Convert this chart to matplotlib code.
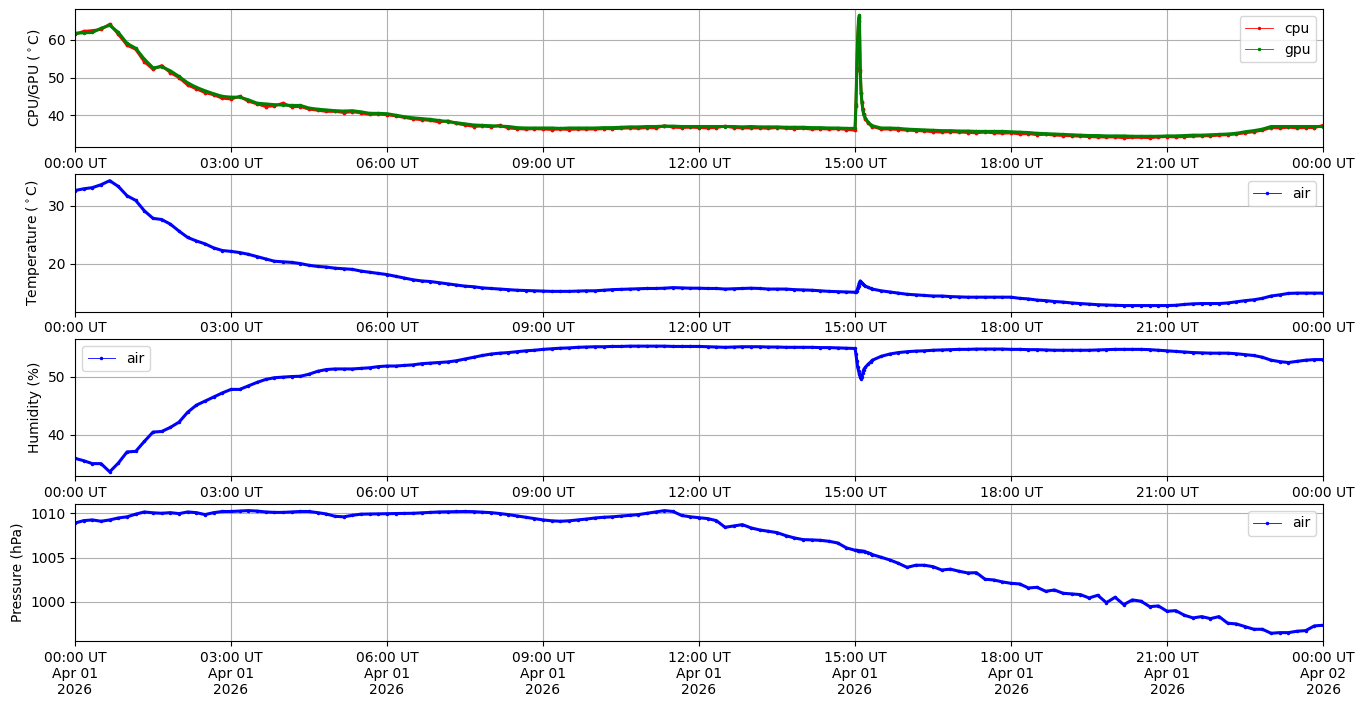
import datetime as dt
import matplotlib
matplotlib.use("Agg")
import matplotlib.pyplot as plt
import matplotlib.dates as mdates
from matplotlib.lines import Line2D

# sample times (minutes after 2026-04-01 00:00 UT)
minutes = (list(range(0, 900, 10))
           + [900, 901, 902, 903, 904, 905, 906, 907, 908, 909, 910, 912, 915, 918, 920, 930, 940, 950]
           + list(range(960, 1441, 10)))

gpu = [
    61.8, 61.9, 62.0, 63.1, 63.9, 62.0,
    59.1, 57.8, 54.9, 52.6, 52.9, 51.8,
    50.3, 48.6, 47.4, 46.5, 45.7, 45.0,
    44.8, 44.8, 44.1, 43.2, 43.0, 42.8,
    42.7, 42.6, 42.6, 41.9, 41.6, 41.4,
    41.2, 41.1, 41.2, 40.9, 40.5, 40.5,
    40.4, 40.0, 39.6, 39.3, 39.1, 38.9,
    38.6, 38.3, 38.0, 37.7, 37.4, 37.3,
    37.2, 37.1, 37.0, 36.7, 36.6, 36.6,
    36.6, 36.6, 36.5, 36.6, 36.6, 36.6,
    36.6, 36.7, 36.7, 36.8, 36.9, 36.9,
    37.0, 37.0, 37.1, 37.1, 37.0, 37.0,
    37.0, 37.0, 37.0, 37.0, 37.0, 36.9,
    37.0, 36.9, 36.9, 36.9, 36.8, 36.8,
    36.8, 36.7, 36.7, 36.6, 36.6, 36.5,
    36.5, 43.0, 52.5, 60.5, 65.5, 66.5, 51.5, 45.8, 43.2, 41.4, 40.1, 39.2, 38.2, 37.5, 37.2, 36.6, 36.6, 36.5,
    36.3, 36.2, 36.1, 36.0, 35.9, 35.9,
    35.8, 35.8, 35.7, 35.7, 35.7, 35.7,
    35.6, 35.5, 35.4, 35.2, 35.1, 35.0,
    34.9, 34.8, 34.7, 34.6, 34.6, 34.5,
    34.5, 34.5, 34.4, 34.4, 34.4, 34.4,
    34.5, 34.5, 34.6, 34.7, 34.7, 34.8,
    34.9, 35.0, 35.2, 35.6, 35.9, 36.3,
    37.0, 37.0, 37.0, 37.0, 37.0, 37.0,
    37.0,
]

cpu = [
    61.5, 62.3, 62.5, 62.8, 64.2, 61.5,
    58.6, 57.5, 54.2, 52.2, 53.2, 51.3,
    50.0, 48.0, 47.0, 46.0, 45.4, 44.5,
    44.3, 45.0, 43.7, 43.0, 42.3, 42.5,
    43.2, 42.2, 42.3, 41.6, 41.3, 41.0,
    41.0, 40.7, 40.9, 40.6, 40.2, 40.3,
    40.1, 39.8, 39.4, 39.0, 38.8, 38.6,
    38.2, 38.5, 37.8, 37.4, 37.0, 37.1,
    36.9, 37.3, 36.6, 36.4, 36.3, 36.4,
    36.3, 36.2, 36.3, 36.2, 36.3, 36.3,
    36.3, 36.4, 36.4, 36.5, 36.6, 36.5,
    36.7, 36.6, 37.2, 36.8, 36.7, 36.8,
    36.7, 36.6, 36.7, 37.1, 36.7, 36.6,
    36.6, 36.6, 36.5, 36.7, 36.5, 36.4,
    36.5, 36.3, 36.4, 36.3, 36.4, 36.2,
    36.0, 42.5, 52.0, 60.5, 65.0, 66.0, 52.0, 46.0, 43.5, 41.6, 40.3, 39.0, 38.0, 37.3, 37.0, 36.3, 36.3, 36.2,
    36.0, 35.9, 35.8, 35.6, 35.5, 35.6,
    35.5, 35.4, 35.3, 35.5, 35.3, 35.2,
    35.3, 35.0, 35.1, 34.8, 34.9, 34.7,
    34.6, 34.5, 34.4, 34.3, 34.2, 34.2,
    34.2, 34.0, 34.1, 34.1, 34.0, 34.2,
    34.3, 34.2, 34.3, 34.4, 34.5, 34.5,
    34.7, 34.8, 35.0, 35.3, 35.6, 36.0,
    36.7, 36.6, 36.8, 36.6, 36.7, 36.7,
    37.3,
]

air_temp = [
    32.6, 32.9, 33.1, 33.6, 34.3, 33.3,
    31.7, 30.9, 29.1, 27.8, 27.6, 26.8,
    25.6, 24.5, 23.9, 23.4, 22.7, 22.25,
    22.1, 21.9, 21.6, 21.2, 20.8, 20.4,
    20.3, 20.2, 20.0, 19.7, 19.5, 19.4,
    19.2, 19.1, 19.0, 18.7, 18.5, 18.3,
    18.1, 17.8, 17.5, 17.2, 17.0, 16.9,
    16.7, 16.5, 16.3, 16.1, 16.0, 15.8,
    15.7, 15.6, 15.5, 15.4, 15.35, 15.3,
    15.25, 15.2, 15.2, 15.2, 15.25, 15.3,
    15.3, 15.4, 15.5, 15.55, 15.6, 15.65,
    15.7, 15.7, 15.75, 15.85, 15.8, 15.75,
    15.75, 15.7, 15.7, 15.6, 15.65, 15.7,
    15.75, 15.7, 15.6, 15.6, 15.6, 15.5,
    15.45, 15.4, 15.3, 15.2, 15.15, 15.1,
    15.05, 15.1, 15.3, 15.7, 16.2, 16.7, 17.0, 16.8, 16.6, 16.4, 16.3, 16.1, 15.9, 15.7, 15.6, 15.3, 15.1, 14.9,
    14.7, 14.6, 14.5, 14.4, 14.4, 14.3,
    14.25, 14.2, 14.2, 14.2, 14.2, 14.2,
    14.2, 14.0, 13.9, 13.7, 13.6, 13.45,
    13.35, 13.2, 13.1, 13.0, 12.9, 12.85,
    12.8, 12.75, 12.75, 12.75, 12.75, 12.75,
    12.75, 12.8, 12.95, 13.05, 13.1, 13.1,
    13.1, 13.2, 13.4, 13.6, 13.75, 14.0,
    14.4, 14.6, 14.85, 14.9, 14.9, 14.9,
    14.9,
]

humidity = [
    36.0, 35.6, 35.1, 35.1, 33.7, 35.2,
    37.1, 37.2, 38.9, 40.5, 40.6, 41.3,
    42.2, 43.9, 45.1, 45.8, 46.5, 47.2,
    47.8, 47.8, 48.4, 49.0, 49.5, 49.8,
    49.9, 50.0, 50.05, 50.4, 50.9, 51.2,
    51.3, 51.3, 51.3, 51.4, 51.5, 51.7,
    51.8, 51.8, 51.9, 52.0, 52.2, 52.3,
    52.4, 52.5, 52.7, 53.0, 53.3, 53.6,
    53.85, 54.0, 54.1, 54.25, 54.4, 54.5,
    54.65, 54.75, 54.85, 54.9, 55.0, 55.05,
    55.1, 55.1, 55.15, 55.15, 55.2, 55.2,
    55.2, 55.2, 55.2, 55.15, 55.15, 55.15,
    55.15, 55.1, 55.05, 55.0, 55.05, 55.1,
    55.1, 55.1, 55.05, 55.05, 55.0, 55.0,
    55.0, 55.0, 54.95, 54.95, 54.9, 54.85,
    54.8, 53.85, 52.7, 51.6, 51.0, 50.4, 49.9, 49.6, 50.0, 50.6, 51.2, 51.6, 52.1, 52.5, 52.8, 53.45, 53.85, 54.1,
    54.25, 54.35, 54.4, 54.5, 54.55, 54.6,
    54.65, 54.65, 54.7, 54.7, 54.7, 54.7,
    54.65, 54.65, 54.6, 54.6, 54.55, 54.5,
    54.5, 54.5, 54.5, 54.5, 54.55, 54.6,
    54.65, 54.65, 54.65, 54.65, 54.6, 54.5,
    54.4, 54.3, 54.2, 54.1, 54.05, 54.0,
    54.0, 54.0, 53.9, 53.75, 53.6, 53.3,
    52.8, 52.55, 52.4, 52.6, 52.8, 52.9,
    52.9,
]

pressure = [
    1008.9, 1009.17, 1009.25, 1009.1, 1009.25, 1009.47,
    1009.6, 1009.9, 1010.15, 1010.05, 1010.0, 1010.07,
    1009.96, 1010.15, 1010.07, 1009.85, 1010.07, 1010.2,
    1010.2, 1010.25, 1010.3, 1010.25, 1010.15, 1010.1,
    1010.1, 1010.15, 1010.2, 1010.2, 1010.07, 1009.92,
    1009.66, 1009.6, 1009.77, 1009.9, 1009.92, 1009.94,
    1009.96, 1009.97, 1009.98, 1010.0, 1010.05, 1010.1,
    1010.15, 1010.17, 1010.2, 1010.2, 1010.18, 1010.12,
    1010.07, 1009.97, 1009.85, 1009.7, 1009.55, 1009.4,
    1009.25, 1009.15, 1009.1, 1009.15, 1009.25, 1009.35,
    1009.47, 1009.55, 1009.6, 1009.68, 1009.77, 1009.85,
    1010.0, 1010.15, 1010.3, 1010.2, 1009.75, 1009.6,
    1009.5, 1009.4, 1009.17, 1008.42, 1008.57, 1008.72,
    1008.35, 1008.12, 1007.97, 1007.82, 1007.48, 1007.22,
    1007.03, 1007.0, 1006.95, 1006.84, 1006.65, 1006.1,
    1005.83, 1005.82, 1005.81, 1005.8, 1005.79, 1005.78, 1005.77, 1005.76, 1005.74, 1005.72, 1005.7, 1005.65, 1005.56, 1005.45, 1005.34, 1005.04, 1004.74, 1004.36,
    1003.9, 1004.14, 1004.14, 1003.98, 1003.6, 1003.7,
    1003.46, 1003.27, 1003.3, 1002.56, 1002.48, 1002.26,
    1002.1, 1002.03, 1001.58, 1001.65, 1001.2, 1001.35,
    1000.98, 1000.9, 1000.83, 1000.45, 1000.75, 999.92,
    1000.53, 999.7, 1000.23, 1000.08, 999.47, 999.55,
    998.95, 999.02, 998.5, 998.2, 998.35, 998.12,
    998.35, 997.6, 997.52, 997.22, 996.92, 996.92,
    996.47, 996.54, 996.54, 996.7, 996.77, 997.3,
    997.37,
]

y_labels = ["CPU/GPU ($^\\circ$C)", "Temperature ($^\\circ$C)", "Humidity (%)", "Pressure (hPa)"]
y_limits = [(31.6, 68.1), (11.7, 35.4), (32.9, 56.4), (995.56, 1011.05)]
legend_locs = ["upper right", "upper right", "upper left", "upper right"]

t0 = dt.datetime(2026, 4, 1)
times = [t0 + dt.timedelta(minutes=m) for m in minutes]

fig, axes = plt.subplots(4, 1, figsize=(13.64, 7.07), dpi=100)
fig.subplots_adjust(left=0.055, right=0.970, top=0.9866, bottom=0.0929, hspace=0.2)

def handle(color):
    return Line2D([], [], color=color, lw=0.6, marker='.', ms=3)

ax = axes[0]
ax.plot(times, cpu, color='red', lw=2.0, marker='.', ms=3.5)
ax.plot(times, gpu, color='green', lw=2.2, marker='.', ms=3)
ax.legend([handle('red'), handle('green')], ['cpu', 'gpu'], loc=legend_locs[0])

for ax, vals in zip(axes[1:], [air_temp, humidity, pressure]):
    ax.plot(times, vals, color='blue', lw=2.2, marker='.', ms=3)

for i, ax in enumerate(axes):
    if i > 0:
        ax.legend([handle('blue')], ['air'], loc=legend_locs[i])
    ax.set_ylabel(y_labels[i])
    ax.set_ylim(*y_limits[i])
    ax.set_xlim(t0, t0 + dt.timedelta(days=1))
    ax.xaxis.set_major_locator(mdates.HourLocator(byhour=range(0, 24, 3)))
    if i < 3:
        ax.xaxis.set_major_formatter(mdates.DateFormatter('%H:%M UT'))
    else:
        ax.xaxis.set_major_formatter(mdates.DateFormatter('%H:%M UT\n%b %d\n%Y'))
    ax.grid(True)

fig.savefig("out.png", dpi=100)
